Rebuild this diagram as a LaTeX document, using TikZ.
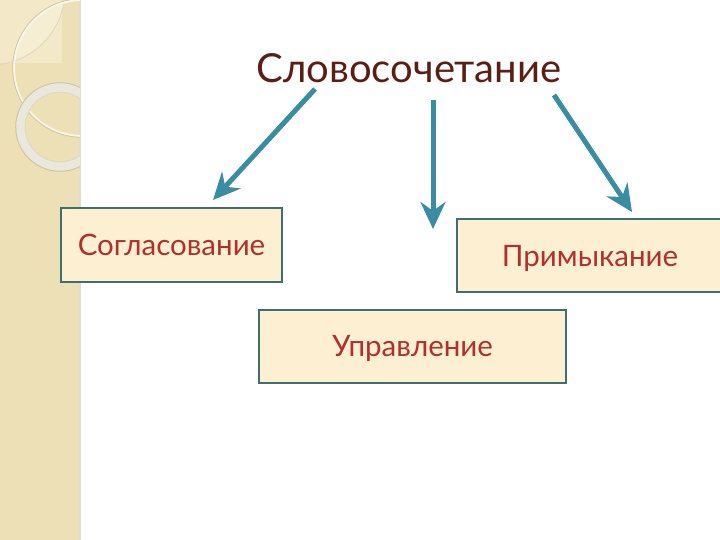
\documentclass[tikz,border=0pt]{standalone}
\usepackage{fontspec}
\setmainfont{Lato}
\usetikzlibrary{arrows.meta}
\definecolor{strip}{HTML}{EDE0B6}
\definecolor{stripLight}{HTML}{F3E9C8}
\definecolor{lensc}{HTML}{F6EED3}
\definecolor{ringc}{HTML}{EAE7DD}
\definecolor{ringsh}{HTML}{CFC5A8}
\definecolor{boxfill}{HTML}{FDEFD2}
\definecolor{boxline}{HTML}{3E6E6E}
\definecolor{boxtext}{HTML}{B0302E}
\definecolor{titletext}{HTML}{5A1E14}
\definecolor{arrowc}{HTML}{3A8CA2}
\tikzset{
  kindbox/.style={draw=boxline, line width=2pt, fill=boxfill, text=boxtext,
    font=\fontsize{29.5}{34}\selectfont, inner sep=0pt, anchor=north west},
  bigarrow/.style={draw=arrowc, line width=5pt,
    -{Stealth[length=27pt,width=25pt,inset=9pt]}}
}
\newcommand{\lowerby}[2]{\raisebox{-#1}[\height][\depth]{#2}}
\begin{document}
\begin{tikzpicture}[x=1pt,y=-1pt]
\useasboundingbox (0,0) rectangle (720,540);
\fill[white] (0,0) rectangle (720,540);
% left decorative strip
\fill[strip] (0,0) rectangle (80,540);
\fill[ringsh!60] (79,0) rectangle (81,540);
\begin{scope}
  \clip (0,0) rectangle (80,540);
  \fill[stripLight] (0,0) rectangle (62,63);
  \begin{scope}
    \clip (-10,-10) circle[radius=75];
    \fill[lensc] (82,68) circle[radius=68];
  \end{scope}
  \draw[ringsh!70, line width=0.8pt] (-10,-10) circle[radius=75];
  \draw[white!70!strip, line width=2pt] (82,68) circle[radius=68];
  \draw[ringsh, line width=0.8pt] (82,68) circle[radius=69.3];
  \draw[ringc, line width=9pt] (60,127) circle[radius=39.5];
  \draw[ringsh, line width=1pt] (60,127) circle[radius=44.3];
  \draw[ringsh!70, line width=0.8pt] (60,127) circle[radius=34.8];
\end{scope}
% title
\node[text=titletext, font=\fontsize{40}{46}\selectfont, inner sep=0pt] (title) at (409,68) {Словосочетание};
% boxes
\node[kindbox, minimum width=221pt, minimum height=74pt] (sogl) at (60,207) {Согласование};
\node[kindbox, minimum width=266pt, minimum height=73pt] (prim) at (456,218) {\lowerby{3pt}{Примыкание}};
\node[kindbox, minimum width=307pt, minimum height=73pt] (upr) at (258,309) {\lowerby{2pt}{Управление}};
% arrows
\coordinate (a1s) at (315,89);
\coordinate (a1e) at (213,200);
\coordinate (a2s) at (433,100);
\coordinate (a2e) at (433,229);
\coordinate (a3s) at (554,95);
\coordinate (a3e) at (632,212);
\draw[bigarrow] (a1s) -- (a1e);
\draw[bigarrow] (a2s) -- (a2e);
\draw[bigarrow] (a3s) -- (a3e);
\end{tikzpicture}
\end{document}
